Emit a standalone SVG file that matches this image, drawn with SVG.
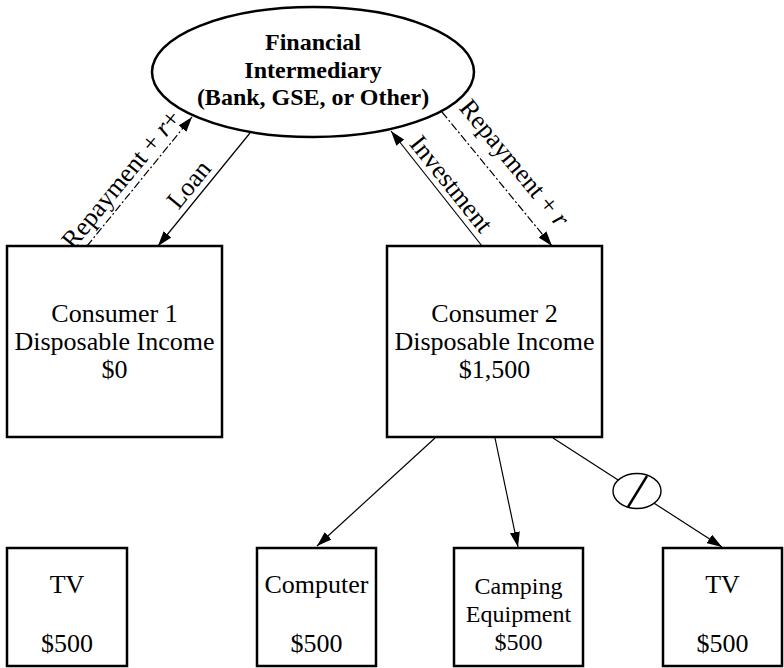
<svg xmlns="http://www.w3.org/2000/svg" width="784" height="668" viewBox="0 0 784 668">
  <style>
    .box { fill: #fff; stroke: #000; stroke-width: 2.5; }
    .lbl { font-family: "Liberation Serif", "Times New Roman", serif; font-size: 26px; fill: #000; text-anchor: middle; }
    .bold { font-weight: bold; font-size: 24px; }
    .tight { font-size: 24px; }
    .edge { fill: none; stroke: #000; stroke-width: 1.2; }
    .dash { stroke-dasharray: 8 2.5 2 2.5; }
    .arrow { marker-end: url(#head); }
  </style>
  <defs>
    <marker id="head" markerUnits="userSpaceOnUse" markerWidth="15" markerHeight="10" refX="15" refY="5" orient="auto">
      <path d="M0,0 L15,5 L0,10 z" fill="#000"/>
    </marker>
  </defs>
  <rect width="784" height="668" fill="#fff"/>

  <!-- connectors -->
  <g id="connectors">
    <line class="edge dash arrow" x1="87" y1="246" x2="192" y2="117"/>
    <line class="edge arrow" x1="250" y1="133" x2="158" y2="246"/>
    <line class="edge arrow" x1="482" y1="246" x2="391" y2="131"/>
    <line class="edge dash arrow" x1="442" y1="112" x2="552" y2="246"/>
    <line class="edge arrow" x1="435" y1="438" x2="317" y2="546"/>
    <line class="edge arrow" x1="495" y1="438" x2="518" y2="547"/>
    <line class="edge arrow" x1="553" y1="438" x2="722" y2="547"/>
    <!-- blocked spending mark -->
    <ellipse cx="637" cy="491" rx="24" ry="17.5" fill="#fff" stroke="#000" stroke-width="1.4"/>
    <line x1="628" y1="507" x2="647" y2="476" stroke="#000" stroke-width="2.4"/>

    <text class="lbl" transform="translate(127.6,184.6) rotate(-50.6)">Repayment + <tspan font-style="italic">r</tspan>+</text>
    <text class="lbl" transform="translate(195.4,189.9) rotate(-50.6)">Loan</text>
    <text class="lbl" transform="translate(444.6,189.3) rotate(51.4)">Investment</text>
    <text class="lbl" transform="translate(508,168.5) rotate(50.4)">Repayment + <tspan font-style="italic">r</tspan></text>
  </g>

  <g id="intermediary">
    <ellipse cx="313" cy="72" rx="161" ry="65" fill="#fff" stroke="#000" stroke-width="2.5"/>
    <text class="lbl bold" x="313" y="50">Financial</text>
    <text class="lbl bold" x="313" y="78">Intermediary</text>
    <text class="lbl bold" x="313" y="105">(Bank, GSE, or Other)</text>
  </g>

  <g id="consumer1">
    <rect class="box" x="7" y="246" width="215" height="191"/>
    <text class="lbl" x="114.5" y="322">Consumer 1</text>
    <text class="lbl" x="114.5" y="350">Disposable Income</text>
    <text class="lbl" x="114.5" y="378">$0</text>
  </g>

  <g id="consumer2">
    <rect class="box" x="387" y="246" width="215" height="191"/>
    <text class="lbl" x="494.5" y="322">Consumer 2</text>
    <text class="lbl" x="494.5" y="350">Disposable Income</text>
    <text class="lbl" x="494.5" y="378">$1,500</text>
  </g>

  <g id="tv1">
    <rect class="box" x="7" y="548" width="120" height="118"/>
    <text class="lbl" x="67" y="593">TV</text>
    <text class="lbl" x="67" y="652">$500</text>
  </g>

  <g id="computer">
    <rect class="box" x="257" y="548" width="119" height="118"/>
    <text class="lbl" x="316.5" y="593">Computer</text>
    <text class="lbl" x="316.5" y="652">$500</text>
  </g>

  <g id="camping">
    <rect class="box" x="454" y="548" width="129" height="118"/>
    <text class="lbl tight" x="518.5" y="594">Camping</text>
    <text class="lbl tight" x="518.5" y="622">Equipment</text>
    <text class="lbl tight" x="518.5" y="650">$500</text>
  </g>

  <g id="tv2">
    <rect class="box" x="663" y="548" width="119" height="118"/>
    <text class="lbl" x="722.5" y="593">TV</text>
    <text class="lbl" x="722.5" y="652">$500</text>
  </g>
</svg>
